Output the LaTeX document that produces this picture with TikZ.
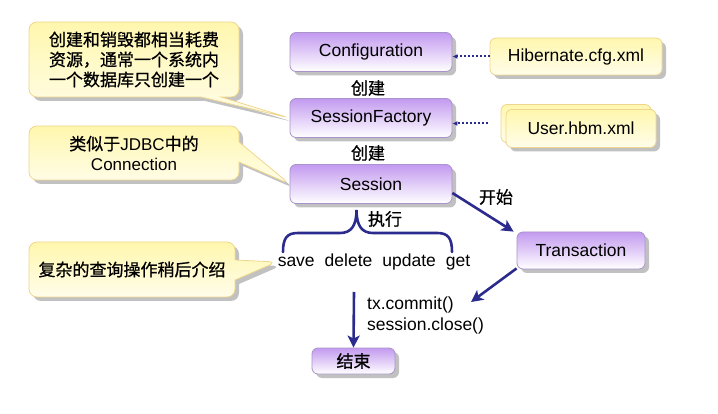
\documentclass[tikz,border=0pt]{standalone}
\usepackage{fontspec}
\setmainfont{Liberation Sans}
\newfontfamily\cjk[FakeBold=0.8]{Noto Sans CJK SC}
\usetikzlibrary{arrows.meta}
\usetikzlibrary{shadows}
\usetikzlibrary{shapes.callouts}

\definecolor{boxviolet}{HTML}{C39AF0}
\definecolor{boxborder}{HTML}{A894C8}
\definecolor{noteyellow}{HTML}{FFF7AE}
\definecolor{notepale}{HTML}{FFFDEA}
\definecolor{noteborder}{HTML}{EFD68E}
\definecolor{arrowblue}{HTML}{2B2B8E}

\tikzset{
    textsize/.style={font=\fontsize{17.5}{20}\selectfont},
    boxshadow/.style={drop shadow={shadow xshift=4pt, shadow yshift=-4pt, fill=black!30, opacity=0.8}},
    classbox/.style={draw=boxborder, thick, rounded corners=6pt, top color=boxviolet, bottom color=white,
        minimum width=162pt, minimum height=39pt, boxshadow, textsize},
    filebox/.style={draw=noteborder, thick, rounded corners=6pt, top color=noteyellow, bottom color=notepale,
        minimum width=150pt, minimum height=38pt, boxshadow, textsize},
    notebox/.style={rectangle callout, draw=noteborder, thick, rounded corners=8pt, top color=noteyellow,
        bottom color=notepale, minimum width=210pt, callout pointer width=20pt, align=center, boxshadow,
        font=\cjk\fontsize{17}{20}\selectfont},
    steplabel/.style={inner sep=1pt, font=\cjk\fontsize{17}{20}\selectfont},
    flow/.style={draw=arrowblue, line width=2.6pt, -{Stealth[length=12pt, width=12pt, inset=3pt]}},
    dotflow/.style={draw=arrowblue, line width=2pt, dash pattern=on 2pt off 2pt, -{Latex[length=5pt, width=5pt]}}
}

\begin{document}
\begin{tikzpicture}[x=1pt, y=-1pt]
    \useasboundingbox (0,0) rectangle (718,414);

    % main chain
    \node[classbox] (conf) at (371,52) {Configuration};
    \node[classbox] (sf) at (371,118) {SessionFactory};
    \node[classbox] (ses) at (371,184) {Session};
    \node[classbox, minimum width=128pt, minimum height=37pt] (tr) at (581,250.5) {Transaction};
    \node[classbox, minimum width=83pt, minimum height=26pt, inner sep=2pt, font=\cjk\fontsize{17}{20}\selectfont] (end) at (353.5,361) {结束};

    \node[steplabel] (mk1) at (368,88) {创建};
    \node[steplabel] (mk2) at (368,153) {创建};
    \node[steplabel] (begin) at (496,197) {开始};
    \node[steplabel] (run) at (385,219) {执行};

    % mapping files
    \node[filebox, minimum width=172pt, minimum height=37pt] (hib) at (576,56.5) {Hibernate.cfg.xml};
    \node[filebox] (userback) at (576,123.5) {};
    \node[filebox] (user) at (581,128.5) {User.hbm.xml};
    \draw[dotflow] (hib.west) -- (hib.west -| conf.east);
    \draw[dotflow, shorten <=13pt] (userback.west) -- (userback.west -| sf.east);

    % operations
    \node[inner sep=1pt, textsize] (ops) at (374,262) {save\hspace{10pt}delete\hspace{10pt}update\hspace{10pt}get};
    \coordinate (braceL) at (283,252);
    \coordinate (braceR) at (452,252);
    \coordinate (braceM) at (356.5,210);
    \draw[arrowblue, line width=2.6pt, line cap=round]
        (braceL) .. controls (283,238) and (287,233) .. (298,233) -- (340,233)
        .. controls (351,233) and (356.5,226) .. (braceM)
        .. controls (356.5,226) and (362,233) .. (373,233) -- (437,233)
        .. controls (448,233) and (452,238) .. (braceR);

    \node[anchor=west, align=left, inner sep=1pt, font=\fontsize{17.5}{21}\selectfont] (commit) at (366,315.5)
        {tx.commit()\\session.close()};
    \coordinate (txEnd) at (471,302);
    \coordinate (downStart) at (354,292);

    \draw[flow] ([yshift=-9pt]ses.east) -- ([xshift=-3pt]tr.north west);
    \draw[flow] ([yshift=1pt]tr.south west) -- (txEnd);
    \draw[flow] (downStart) -- (end.north);

    % notes
    \node[notebox, minimum height=75pt, callout absolute pointer={(sf.west)}] (note1) at (134,59.5)
        {创建和销毁都相当耗费\\资源，通常一个系统内\\一个数据库只创建一个};
    \node[notebox, minimum height=54pt, callout absolute pointer={(ses.west)}] (note2) at (134,153)
        {类似于{\rmfamily JDBC}中的\\{\rmfamily Connection}};
    \node[notebox, minimum width=206pt, minimum height=55pt, callout absolute pointer={(ops.west)}] (note3) at (132,269.5)
        {复杂的查询操作稍后介绍};
\end{tikzpicture}
\end{document}
